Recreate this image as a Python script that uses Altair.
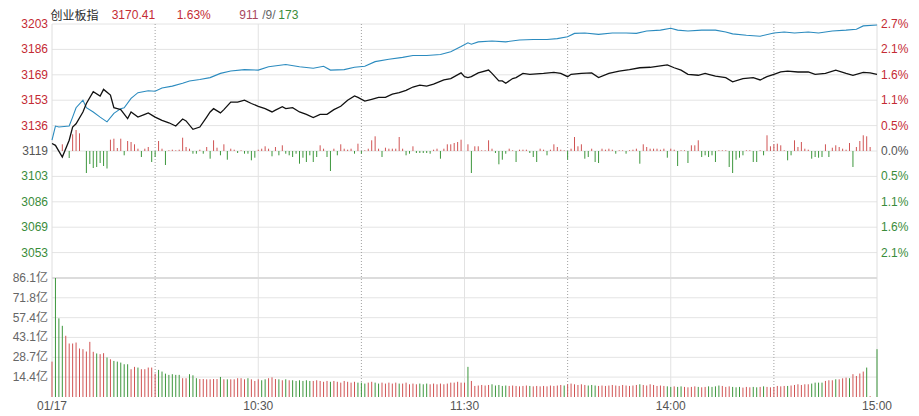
import altair as alt
import pandas as pd

# ---------------- data ----------------
HEADER = ["创业板指", "3170.41", "1.63%", "911", "/9/", "173"]

PCT_TICKS = [2.7, 2.16, 1.62, 1.08, 0.54, 0.0, -0.54, -1.08, -1.62, -2.16]
LEFT_LABELS = ["3203", "3186", "3169", "3153", "3136", "3119", "3103", "3086", "3069", "3053"]
RIGHT_LABELS = ["2.7%", "2.1%", "1.6%", "1.1%", "0.5%", "0.0%", "0.5%", "1.1%", "1.6%", "2.1%"]

VOL_TICKS = [86.1, 71.8, 57.4, 43.1, 28.7, 14.4]
VOL_LABELS = ["86.1亿", "71.8亿", "57.4亿", "43.1亿", "28.7亿", "14.4亿"]

X_TICKS = [0, 60, 120, 180, 240]
X_LABELS = ["01/17", "10:30", "11:30", "14:00", "15:00"]
GRID_SOLID = [60, 120, 180]
GRID_DOTTED = [30, 90, 150, 210]

# index (black) line: minute index, % change
BLACK_MIN = [0, 1, 3, 5, 6, 7, 9, 10, 12, 14, 15, 17, 18, 19, 20, 22, 23, 25, 27, 28,
             30, 32, 34, 36, 38, 39, 41, 43, 45, 46, 47, 49, 50, 52, 54, 56, 58, 60, 62, 64,
             65, 67, 68, 70, 72, 74, 76, 78, 80, 82, 84, 86, 88, 89, 91, 93, 95, 97, 99, 101,
             103, 105, 107, 109, 111, 114, 116, 119, 120, 121, 122, 124, 127, 128, 130, 131, 132, 134, 135, 137,
             139, 143, 146, 148, 150, 151, 154, 157, 159, 162, 165, 168, 171, 174, 177, 179, 181, 183, 185, 188,
             190, 191, 193, 196, 198, 201, 204, 206, 208, 210, 212, 214, 217, 220, 222, 225, 228, 231, 233, 236,
             238, 240]
BLACK_PCT = [0.16, 0.12, -0.13, 0.23, 0.51, 0.58, 0.83, 1.01, 1.26, 1.17, 1.31, 1.19, 0.92, 0.90, 0.88, 0.69, 0.83, 0.72, 0.78, 0.81,
             0.72, 0.65, 0.60, 0.53, 0.68, 0.64, 0.46, 0.51, 0.72, 0.83, 0.90, 0.81, 0.88, 1.04, 1.04, 1.08, 1.01, 0.95, 0.90, 0.83,
             0.87, 0.94, 0.90, 0.92, 0.83, 0.78, 0.71, 0.78, 0.78, 0.88, 0.95, 1.08, 1.17, 1.14, 1.06, 1.10, 1.14, 1.14, 1.21, 1.24,
             1.29, 1.36, 1.40, 1.38, 1.42, 1.51, 1.54, 1.66, 1.58, 1.56, 1.58, 1.66, 1.72, 1.65, 1.49, 1.49, 1.44, 1.54, 1.56, 1.65,
             1.63, 1.65, 1.67, 1.65, 1.58, 1.63, 1.65, 1.66, 1.56, 1.65, 1.70, 1.73, 1.77, 1.78, 1.81, 1.83, 1.77, 1.72, 1.63, 1.61,
             1.65, 1.63, 1.59, 1.56, 1.47, 1.54, 1.56, 1.51, 1.58, 1.63, 1.68, 1.70, 1.68, 1.68, 1.63, 1.65, 1.72, 1.65, 1.61, 1.67,
             1.66, 1.63]

# blue line: minute index, % change
BLUE_MIN = [0, 1, 2, 5, 6, 7, 9, 10, 12, 14, 16, 18, 20, 21, 23, 25, 28, 30, 32, 35,
            38, 40, 43, 46, 49, 52, 56, 60, 63, 68, 72, 76, 79, 81, 85, 88, 91, 94, 98, 102,
            105, 109, 113, 116, 119, 121, 122, 124, 128, 132, 136, 140, 144, 147, 150, 152, 155, 159, 163, 167,
            170, 173, 177, 180, 182, 185, 189, 193, 196, 198, 202, 206, 210, 213, 216, 220, 223, 227, 231, 234,
            236, 240]
BLUE_PCT = [0.23, 0.53, 0.51, 0.53, 0.72, 0.92, 1.08, 0.92, 0.83, 0.72, 0.62, 0.80, 0.90, 0.92, 1.12, 1.24, 1.28, 1.27, 1.34, 1.38,
            1.44, 1.49, 1.52, 1.56, 1.65, 1.70, 1.73, 1.72, 1.79, 1.84, 1.79, 1.76, 1.80, 1.72, 1.73, 1.78, 1.80, 1.90, 1.95, 1.99,
            2.03, 2.03, 2.05, 2.11, 2.22, 2.30, 2.27, 2.32, 2.34, 2.32, 2.36, 2.37, 2.37, 2.39, 2.43, 2.50, 2.51, 2.48, 2.51, 2.51,
            2.50, 2.55, 2.57, 2.61, 2.57, 2.55, 2.57, 2.57, 2.53, 2.49, 2.46, 2.44, 2.51, 2.53, 2.51, 2.53, 2.51, 2.55, 2.57, 2.59,
            2.66, 2.68]

# red/green strength bars around the 0% line (one per minute)
STRENGTH = [0, 0, 0, 6.7, 0, -7, 16.7, 21, 17.7, 0,
            -22, -13, -17, -16, -12, -15, -17.5, 11.3, 12.3, 3,
            12.3, -4.3, 10, 9, 6.7, 2.3, -6, 2.3, 4, -11,
            -6, 10, 2.3, -14, 0.7, 1.3, 0.7, 1.3, 13.3, 4,
            2.3, -2.7, -2.7, 1.3, -2.7, 4, -7.7, 10.7, 3.3, -4.3,
            6.7, -8.7, 2.3, 1.3, -2, 0.7, -2.7, -2.7, -9.3, -6.7,
            1.3, 2.3, 4.7, 2.3, -5.3, 4, -4.3, 5.7, -2.7, -4.3,
            -6, -2.7, -12.7, -6.7, -11, -4.3, -11, -6, 5.7, 2.3,
            -6, -20, 2.3, -4.3, 6.7, 2.3, 1.3, 2.3, -2.7, 7.3,
            -2.7, 0.7, 2.3, 10.7, 14.7, 2.3, -6, 3.3, 2.3, 2.3,
            2.3, 14, 2.3, -4.3, -2.7, 4.7, -2, -2, -2, -2,
            -2.7, 1.3, 2.3, -7.7, 2.3, 6.7, 6.7, 8, 9, 11.3,
            0, 6.7, -22, 4.7, 4.7, 0.7, 0.7, 10.7, 2.3, -2,
            -13.3, -8.7, -2.7, 2.3, 0.7, -11, 1.3, 1.3, 1.3, -2,
            -6, -11, 2.3, 1.3, -4.3, 1.3, 6.7, 4, 1.3, 0.7,
            -8.7, 2.3, 14, 4.7, 6.7, -7.7, -6, 2.3, -11, -12,
            2.3, 1.3, 2.3, 1.3, -2.7, 0.7, 0.7, -2.7, 0.7, 1.3,
            2.3, -12.7, 6.7, 4, 2.3, 2.3, 2.3, 1.3, 2.3, -6.7,
            2.3, 1.3, -15, 0.7, 0.7, -12, 5.7, 5.7, 10.7, -6,
            -4.3, -6, -4.3, -11, 0.7, 0.7, 0.7, -16, -22, -8.7,
            -6.7, -4.3, 0.7, 0.7, -11, -11, 0.7, -4.3, 15.7, 4.7,
            6.7, 7.3, 5.7, 0.7, -9.3, -4.3, 10.7, 4, 9, 2.3,
            1.3, -7.7, -6, -6.7, -6, 6.7, -6, 3.3, 5.7, 4,
            2.3, 1.3, 8, -16, 4, 10, 15.7, 14.7, 4, 0, 0]

# volume per minute (亿) and its direction (r = up, g = down)
VOLUME = [25.6, 86.1, 56.9, 51.5, 44.3, 38.7, 38.7, 39.4, 35.1, 34.6,
          32.9, 39.9, 32.7, 31.5, 31.0, 31.7, 28.6, 27.3, 26.1, 25.6,
          24.9, 23.7, 23.7, 20.1, 21.8, 21.3, 20.1, 20.1, 21.3, 21.3,
          16.9, 19.6, 18.4, 16.9, 16.0, 16.5, 16.0, 16.0, 13.6, 13.6,
          16.5, 15.7, 13.6, 13.0, 13.0, 12.8, 12.8, 13.0, 13.0, 14.5,
          12.8, 12.8, 12.8, 12.8, 13.6, 13.6, 12.8, 13.6, 12.8, 11.6,
          12.8, 12.1, 12.8, 13.6, 14.2, 13.0, 12.8, 12.1, 12.8, 12.1,
          12.1, 11.6, 12.1, 11.6, 12.1, 11.6, 11.6, 12.1, 11.6, 11.0,
          11.6, 11.0, 11.6, 11.0, 10.4, 11.6, 11.0, 10.4, 11.0, 10.4,
          10.4, 9.7, 10.4, 11.0, 10.4, 9.7, 10.4, 9.7, 10.4, 9.7,
          10.4, 9.7, 9.7, 10.4, 9.2, 9.7, 9.2, 9.7, 9.2, 9.7,
          9.2, 9.7, 9.2, 9.7, 9.2, 9.7, 10.4, 10.4, 11.0, 10.4,
          10.4, 21.8, 11.6,
          8.0, 8.3, 8.7, 8.3, 8.7, 9.2, 8.3, 8.7, 8.0, 8.3,
          8.0, 8.3, 8.0, 7.7, 8.0, 8.3, 8.0, 7.7, 8.0, 7.7,
          8.0, 7.7, 8.3, 8.0, 8.3, 8.7, 8.3, 9.2, 9.7, 9.2,
          8.7, 9.2, 8.7, 8.3, 8.7, 8.3, 8.0, 8.3, 8.0, 8.3,
          8.7, 8.3, 8.0, 8.7, 8.3, 8.0, 8.3, 8.7, 9.2, 8.7,
          8.3, 9.2, 8.7, 8.0, 8.3, 8.0, 7.7, 7.3, 7.7, 7.3,
          7.7, 7.3, 7.0, 7.3, 7.7, 7.3, 7.0, 7.3, 7.7, 7.3,
          7.7, 8.3, 8.0, 7.3, 7.7, 7.3, 7.0, 7.3, 6.8, 7.3,
          7.0, 7.3, 7.0, 7.3, 7.7, 7.3, 7.0, 7.3, 8.0, 7.7,
          8.0, 8.0, 8.3, 8.7, 9.2, 8.7, 9.2, 9.2, 9.7, 10.4,
          10.4, 10.4, 11.6, 12.1, 12.1, 12.8, 12.8, 13.5, 14.0,
          13.6, 16.5, 15.2, 17.0, 18.4, 21.3, 0.6, 0, 34.6]
VOL_DIR = ("rgggrrrrrr" "rrrgrrgrgg" "gggrrgrrrr" "rgggggggrr" "gggrrrrrrg"
           "rgrrrrrgrr" "rggrrrgrgr" "ggggggrrrr" "rgrrrrrrrg" "ggrrggrrrr"
           "rgrrrrrggg" "rrrrrrrrrr" "rgr"
           "rrrrrggggg" "rrrrrrgrrr" "rrrrrrgrrr" "rrrgggrrrr" "rrrrrrrrgr"
           "rrrrrrggrg" "grrrrgrrgg" "ggrrrgggrr" "rggrgrrrrr" "rgrrrrrrgg"
           "ggrrrgrrr" "grrrrgrrg")

# ---------------- styles ----------------
W, H, TOP_H = 825, 373, 254
RED_T, GREEN_T, GRAY_T = "#c42b34", "#3a8c3a", "#555555"
RED_B, GREEN_B = "#d05454", "#3c963c"
FONT = "Liberation Sans, Noto Sans CJK SC"

x_sc = alt.Scale(domain=[0, 240], nice=False, zero=False)
pct_sc = alt.Scale(domain=[-2.7, 2.7], range=[TOP_H, 0], nice=False, zero=False)
str_sc = alt.Scale(domain=[-127, 127], range=[TOP_H, 0], nice=False, zero=False)
vol_sc = alt.Scale(domain=[0, 86.1], range=[H, TOP_H], nice=False, zero=False)


def sign_color(v):
    return RED_T if v > 0 else (GREEN_T if v < 0 else GRAY_T)


X = lambda f: alt.X(f, scale=x_sc, axis=None)

# grid
hgrid_top = alt.Chart(pd.DataFrame({"p": PCT_TICKS})).mark_rule(color="#e4e4e4", strokeWidth=1).encode(
    x=alt.value(0), x2=alt.value(W), y=alt.Y("p:Q", scale=pct_sc, axis=None))
hgrid_vol = alt.Chart(pd.DataFrame({"v": VOL_TICKS[1:]})).mark_rule(color="#e4e4e4", strokeWidth=1).encode(
    x=alt.value(0), x2=alt.value(W), y=alt.Y("v:Q", scale=vol_sc, axis=None))
separator = alt.Chart(pd.DataFrame({"v": [VOL_TICKS[0]]})).mark_rule(color="#dcdcdc", strokeWidth=2).encode(
    x=alt.value(0), x2=alt.value(W), y=alt.Y("v:Q", scale=vol_sc, axis=None))
vgrid_solid = alt.Chart(pd.DataFrame({"m": GRID_SOLID})).mark_rule(color="#e2e2e2", strokeWidth=1).encode(
    x=X("m:Q"), y=alt.value(0), y2=alt.value(H))
vgrid_dot = alt.Chart(pd.DataFrame({"m": GRID_DOTTED})).mark_rule(color="#a0a0a0", strokeWidth=1, strokeDash=[1, 2]).encode(
    x=X("m:Q"), y=alt.value(0), y2=alt.value(H))
borders = alt.Chart(pd.DataFrame({"m": [0, 240]})).mark_rule(color="#dedede", strokeWidth=1).encode(
    x=X("m:Q"), y=alt.value(0), y2=alt.value(H))

# strength bars
sdf = pd.DataFrame({"m": list(range(len(STRENGTH))), "s": STRENGTH, "b": 0.0})
sdf["c"] = [RED_B if v > 0 else GREEN_B for v in STRENGTH]
sdf = sdf[sdf["s"] != 0]
strength = alt.Chart(sdf).mark_rule(strokeWidth=1).encode(
    x=X("m:Q"), y=alt.Y("b:Q", scale=str_sc, axis=None), y2="s:Q", color=alt.Color("c:N", scale=None))

# lines
blue = alt.Chart(pd.DataFrame({"m": BLUE_MIN, "p": BLUE_PCT})).mark_line(color="#2b8bbf", strokeWidth=1.1).encode(
    x=X("m:Q"), y=alt.Y("p:Q", scale=pct_sc, axis=None))
black = alt.Chart(pd.DataFrame({"m": BLACK_MIN, "p": BLACK_PCT})).mark_line(color="#111111", strokeWidth=1.3).encode(
    x=X("m:Q"), y=alt.Y("p:Q", scale=pct_sc, axis=None))

# volume bars
vdf = pd.DataFrame({"m": list(range(len(VOLUME))), "v": VOLUME, "b": 0.0})
vdf["c"] = [RED_B if d == "r" else GREEN_B for d in VOL_DIR]
vdf = vdf[vdf["v"] > 0]
volume = alt.Chart(vdf).mark_rule(strokeWidth=1).encode(
    x=X("m:Q"), y=alt.Y("v:Q", scale=vol_sc, axis=None), y2="b:Q", color=alt.Color("c:N", scale=None))

# axis labels as text
ldf = pd.DataFrame({"p": PCT_TICKS, "l": LEFT_LABELS, "r": RIGHT_LABELS,
                    "c": [sign_color(v) for v in PCT_TICKS]})
left_lab = alt.Chart(ldf).mark_text(align="right", baseline="middle", font=FONT, fontSize=12).encode(
    x=alt.value(-4), y=alt.Y("p:Q", scale=pct_sc, axis=None), text="l:N", color=alt.Color("c:N", scale=None))
right_lab = alt.Chart(ldf).mark_text(align="left", baseline="middle", font=FONT, fontSize=12).encode(
    x=alt.value(829), y=alt.Y("p:Q", scale=pct_sc, axis=None), text="r:N", color=alt.Color("c:N", scale=None))
vol_lab = alt.Chart(pd.DataFrame({"v": VOL_TICKS, "l": VOL_LABELS})).mark_text(
    align="right", baseline="middle", font=FONT, fontSize=12, color="#666666").encode(
    x=alt.value(-4), y=alt.Y("v:Q", scale=vol_sc, axis=None), text="l:N")
x_lab = alt.Chart(pd.DataFrame({"m": X_TICKS, "l": X_LABELS})).mark_text(
    align="center", baseline="middle", font=FONT, fontSize=12, color="#555555").encode(
    x=X("m:Q"), y=alt.value(382), text="l:N")


def header(i, x, color, align="left", font=FONT, y=-9.5):
    return alt.Chart(pd.DataFrame({"t": [HEADER[i]]})).mark_text(
        align=align, baseline="middle", font=font, fontSize=12, color=color).encode(
        x=alt.value(x), y=alt.value(y), text="t:N")


headers = [
    header(0, -1.5, "#2a2a2a", y=-8.5),
    header(1, 59.7, RED_T),
    header(2, 124.7, RED_T),
    header(3, 187.3, "#a8485e"),
    header(4, 216.8, "#666666", align="center"),
    header(5, 226.3, GREEN_T),
]

chart = alt.layer(
    hgrid_top, hgrid_vol, vgrid_solid, vgrid_dot, borders, separator,
    strength, volume, blue, black,
    left_lab, right_lab, vol_lab, x_lab, *headers,
).resolve_scale(y="independent").properties(
    width=W, height=H,
    padding={"left": 44, "top": 16, "right": 34, "bottom": 16},
    autosize=alt.AutoSizeParams(type="none"),
    background="white",
).configure_view(stroke=None)

chart.save("out.html", embed_options={"renderer": "svg", "actions": False})
